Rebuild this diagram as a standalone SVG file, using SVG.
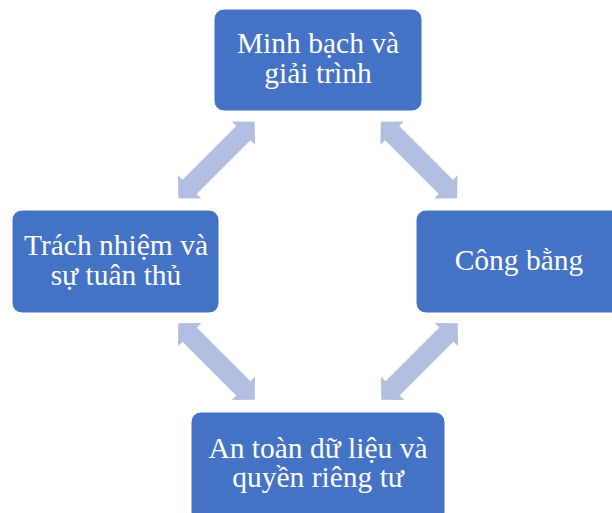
<svg xmlns="http://www.w3.org/2000/svg" xmlns:xlink="http://www.w3.org/1999/xlink" width="612" height="513" viewBox="0 0 612 513">
<style>
.box{fill:#4472C4;stroke:#FFFFFF;stroke-width:1}
.t{font-family:"Liberation Serif","Times New Roman",serif;font-size:29.5px;fill:#FFFFFF;text-anchor:middle}
.arr{fill:#B2BEE0}
</style>
<defs>
<polygon id="dbl" points="-54,0 -38,-16.5 -38,-10 38,-10 38,-16.5 54,0 38,16.5 38,10 -38,10 -38,16.5"/>
</defs>
<rect width="612" height="513" fill="#FFFFFF"/>
<g id="connectors" class="arr">
<use xlink:href="#dbl" href="#dbl" transform="translate(216.5,160) rotate(-45)"/>
<use xlink:href="#dbl" href="#dbl" transform="translate(419,160) rotate(45)"/>
<use xlink:href="#dbl" href="#dbl" transform="translate(216.5,361.5) rotate(45)"/>
<use xlink:href="#dbl" href="#dbl" transform="translate(419.5,361.5) rotate(-45)"/>
</g>
<g id="node-top">
<rect class="box" x="214" y="9" width="208" height="102" rx="10"/>
<text class="t" x="318" y="53">Minh bạch và</text>
<text class="t" x="318" y="83">giải trình</text>
</g>
<g id="node-left">
<rect class="box" x="12" y="210" width="207" height="103" rx="10"/>
<text class="t" x="116" y="255">Trách nhiệm và</text>
<text class="t" x="116" y="285">sự tuân thủ</text>
</g>
<g id="node-right">
<rect class="box" x="416" y="210" width="207" height="103" rx="10"/>
<text class="t" x="519" y="270">Công bằng</text>
</g>
<g id="node-bottom">
<rect class="box" x="191" y="412" width="254" height="110" rx="10"/>
<text class="t" x="318" y="458">An toàn dữ liệu và</text>
<text class="t" x="318" y="487">quyền riêng tư</text>
</g>
</svg>
